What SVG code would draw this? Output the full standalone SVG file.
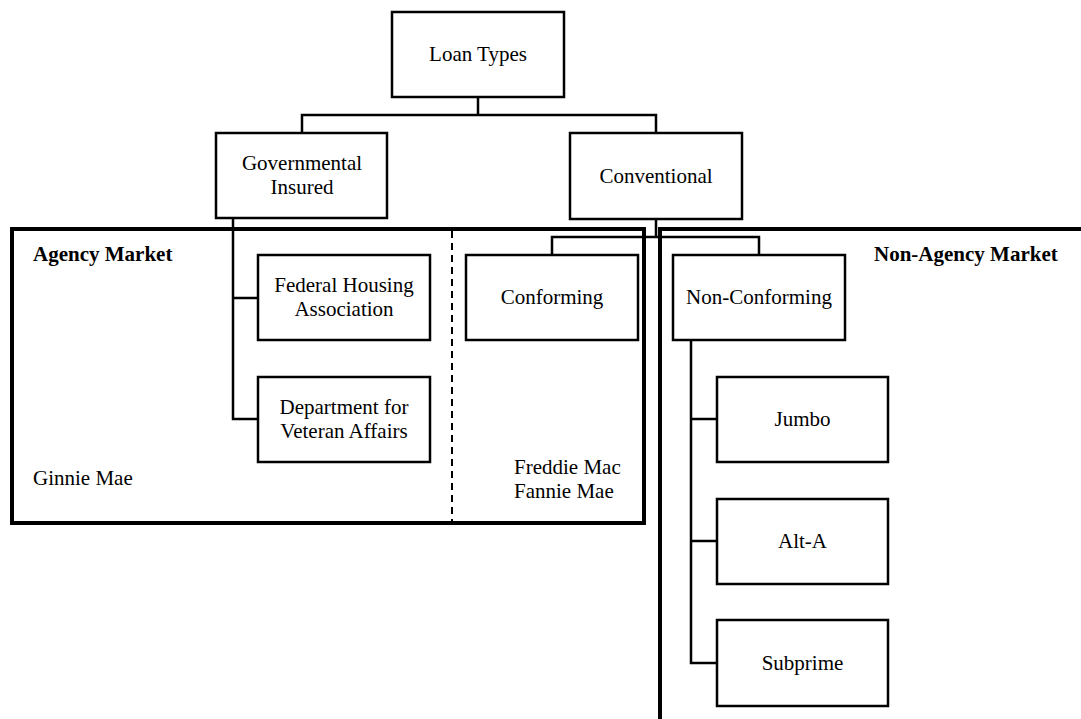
<svg xmlns="http://www.w3.org/2000/svg" width="1081" height="719" viewBox="0 0 1081 719">
<style>
.box{fill:#fff;stroke:#000;stroke-width:2.5}
.t{font-family:'Liberation Serif','Tinos','DejaVu Serif',serif;font-size:21px;fill:#000;text-anchor:middle}
.l{font-family:'Liberation Serif','Tinos','DejaVu Serif',serif;font-size:21px;fill:#000}
.b{font-weight:bold}
.c{fill:none;stroke:#000;stroke-width:2.5}
.m{fill:none;stroke:#000;stroke-width:4}
</style>
<rect width="1081" height="719" fill="#fff"/>
<g id="markets">
<rect class="m" x="12" y="229" width="632" height="294"/>
<path class="m" d="M1085 229 H660 V725"/>
<line x1="452" y1="231" x2="452" y2="521" stroke="#000" stroke-width="2" stroke-dasharray="7,5"/>
<text class="l b" x="33" y="261">Agency Market</text>
<text class="l b" x="874" y="261">Non-Agency Market</text>
<text class="l" x="33" y="485">Ginnie Mae</text>
<text class="l" x="514" y="474"><tspan x="514" y="474">Freddie Mac</tspan><tspan x="514" y="498">Fannie Mae</tspan></text>
</g>
<g id="connectors">
<path class="c" d="M478 97 V115 M302 133 V115 H656 V133"/>
<path class="c" d="M233 218 V419 H258 M233 298 H258"/>
<path class="c" d="M656 219 V237 M552 255 V237 H759 V255"/>
<path class="c" d="M691 340 V663 H717 M691 419 H717 M691 541 H717"/>
</g>
<g id="n-loantypes"><rect class="box" x="392" y="12" width="172" height="85"/><text class="t" x="478" y="61">Loan Types</text></g>
<g id="n-gov"><rect class="box" x="216" y="133" width="171" height="85"/><text class="t"><tspan x="302" y="170.3">Governmental</tspan><tspan x="302" y="193.8">Insured</tspan></text></g>
<g id="n-conv"><rect class="box" x="570" y="133" width="172" height="86"/><text class="t" x="656" y="183">Conventional</text></g>
<g id="n-fha"><rect class="box" x="258" y="255" width="172" height="85"/><text class="t"><tspan x="344" y="292.3">Federal Housing</tspan><tspan x="344" y="315.8">Association</tspan></text></g>
<g id="n-dva"><rect class="box" x="258" y="377" width="172" height="85"/><text class="t"><tspan x="344" y="414.3">Department for</tspan><tspan x="344" y="437.8">Veteran Affairs</tspan></text></g>
<g id="n-conforming"><rect class="box" x="466" y="255" width="172" height="85"/><text class="t" x="552" y="304">Conforming</text></g>
<g id="n-nonconforming"><rect class="box" x="673" y="255" width="172" height="85"/><text class="t" x="759" y="304">Non-Conforming</text></g>
<g id="n-jumbo"><rect class="box" x="717" y="377" width="171" height="85"/><text class="t" x="802.5" y="426">Jumbo</text></g>
<g id="n-alta"><rect class="box" x="717" y="499" width="171" height="85"/><text class="t" x="802.5" y="548">Alt-A</text></g>
<g id="n-subprime"><rect class="box" x="717" y="620" width="171" height="86"/><text class="t" x="802.5" y="669.5">Subprime</text></g>
</svg>
